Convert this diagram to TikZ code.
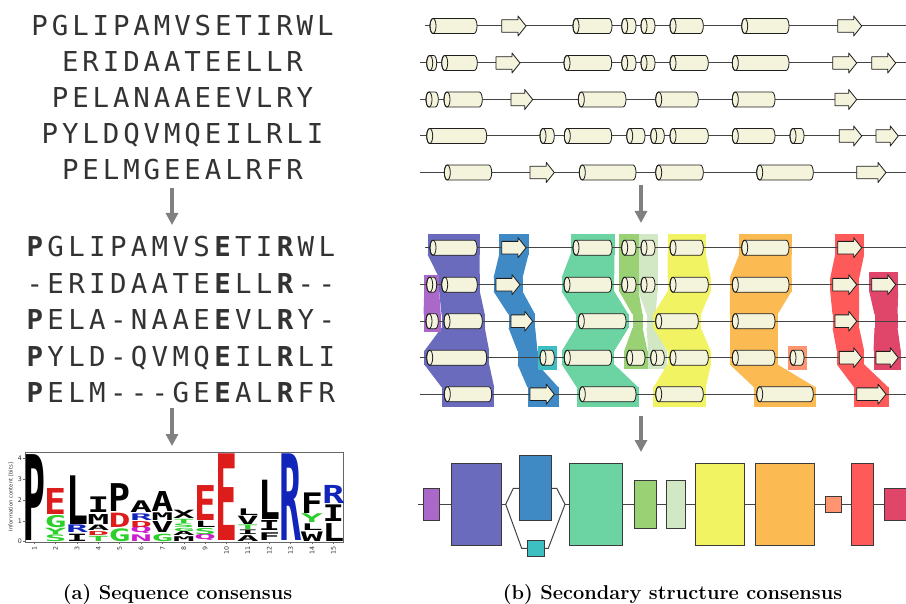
\documentclass[tikz,border=0pt]{standalone}
\usepackage{fontspec}
\usepackage{graphicx}
\usetikzlibrary{arrows.meta}
\newfontfamily\seqfont{DejaVu Sans Mono}
\newfontfamily\logofont{DejaVu Sans Mono}
\newfontfamily\axisfont{DejaVu Sans}

\definecolor{seqgray}{HTML}{333333}
\definecolor{arrgray}{HTML}{808080}
\definecolor{ssfill}{HTML}{F4F3DC}
\definecolor{ssedge}{HTML}{1E1E1E}
\definecolor{trackline}{HTML}{444444}
\definecolor{boxline}{HTML}{3A3A3A}
\definecolor{framegray}{HTML}{666666}
\definecolor{cA}{HTML}{AA69C9}
\definecolor{cB}{HTML}{6A6BBD}
\definecolor{cC}{HTML}{3F8AC5}
\definecolor{cD}{HTML}{3DBFC2}
\definecolor{cE}{HTML}{6CD3A2}
\definecolor{cF}{HTML}{99D174}
\definecolor{cG}{HTML}{D2E7C4}
\definecolor{cH}{HTML}{F2F363}
\definecolor{cI}{HTML}{FCBA52}
\definecolor{cJ}{HTML}{FF9470}
\definecolor{cK}{HTML}{FF5A5A}
\definecolor{cL}{HTML}{E0456A}
\definecolor{lgred}{HTML}{DD1C1C}
\definecolor{lggreen}{HTML}{2DCF2D}
\definecolor{lgblue}{HTML}{1225BB}
\definecolor{lgmag}{HTML}{CC1FCC}

% row heights of the aligned tracks (middle panel)
\def\YA{247.7}
\def\YB{284.7}
\def\YC{321.2}
\def\YD{357.7}
\def\YE{394.2}

% one character per cell of a sequence row: first x, baseline, advance, letters
\newcommand\seqrow[4]{%
  \foreach \c [count=\n] in {#4} {\node[seqch] at ({#1+(\n-1)*#3},#2) {\c};}}

% logo letter: column, bottom (bits), top (bits), letter, colour
\newcommand\logoletter[5]{%
  \pgfmathsetmacro\lgh{(#3-#2)*20.8}%
  \node[inner sep=0,outer sep=0,anchor=south,text=#5]
    at ({34.3+(#1-1)*21.36},{541.7-20.8*#2})
    {\resizebox{22pt}{\lgh pt}{\logofont\bfseries #4}};}

% helix cylinder from x #1 to x #2 on track y #3
\newcommand\helix[3]{%
  \filldraw[ssel] (#1+3,#3-7.5) -- (#2-3,#3-7.5)
    arc[start angle=-90,end angle=90,x radius=3,y radius=7.5]
    -- (#1+3,#3+7.5)
    arc[start angle=90,end angle=270,x radius=3,y radius=7.5] -- cycle;
  \draw[ssel,fill=none] (#1+3,#3) ellipse[x radius=3,y radius=7.5];}

% strand arrow from x #1 to tip x #2 on track y #3
\newcommand\strand[3]{%
  \filldraw[ssel] (#1,#3-6.3) -- (#2-8,#3-6.3) -- (#2-8,#3-10) -- (#2,#3)
    -- (#2-8,#3+10) -- (#2-8,#3+6.3) -- (#1,#3+6.3) -- cycle;}

% the five secondary-structure tracks
\newcommand\tracks{%
  \draw[trk] (425,26) -- (906,26);
  \draw[trk] (420,63) -- (906,63);
  \draw[trk] (420,99.5) -- (906,99.5);
  \draw[trk] (420,136) -- (906,136);
  \draw[trk] (420,172.5) -- (906,172.5);
  \foreach \a/\b in {430/477,573/612,621.7/636,641/655,670/703.3,741.7/789}{\helix{\a}{\b}{26}}
  \foreach \a/\b in {501.7/526,837.7/861.7}{\strand{\a}{\b}{26}}
  \foreach \a/\b in {426.7/436.7,441.7/477.3,564/611.7,621.7/636,641/655,670/708.3,732.3/789}{\helix{\a}{\b}{63}}
  \foreach \a/\b in {496/520,832.7/856.7,871.7/895.7}{\strand{\a}{\b}{63}}
  \foreach \a/\b in {426/438.3,444/482.3,578.3/626,655.7/698.3,732.3/775}{\helix{\a}{\b}{99.5}}
  \foreach \a/\b in {511/532.7,835/856.7}{\strand{\a}{\b}{99.5}}
  \foreach \a/\b in {426.7/486.7,540/554.3,564.3/611.7,626.7/645,650.7/664.3,670/708.3,732.3/775,790/804}{\helix{\a}{\b}{136}}
  \foreach \a/\b in {839.3/861.7,876/898.3}{\strand{\a}{\b}{136}}
  \foreach \a/\b in {444.3/491.7,579.3/636,655.7/703.3,756.7/813.3}{\helix{\a}{\b}{172.5}}
  \foreach \a/\b in {530/554.3,856.7/886}{\strand{\a}{\b}{172.5}}}

% coloured band through aligned elements: entries top/bottom/left/right
\newcommand\band[2]{%
  \foreach \ta/\tb/\tl/\tr [count=\k, remember=\tb as \pb (initially 0),
      remember=\tl as \pl (initially 0), remember=\tr as \pr (initially 0)] in {#2} {
    \fill[#1] (\tl-2.5,\ta) rectangle (\tr+2.5,\tb);
    \ifnum\k>1
      \fill[#1] (\pl-2.5,\pb-0.3) -- (\pr+2.5,\pb-0.3) -- (\tr+2.5,\ta+0.3) -- (\tl-2.5,\ta+0.3) -- cycle;
    \fi}}

\begin{document}
\begin{tikzpicture}[x=1pt,y=-1pt,
  seqch/.style={inner sep=0,outer sep=0,anchor=base,text=seqgray,
    font=\seqfont\fontsize{27.4}{30}\selectfont},
  ssel/.style={draw=ssedge,fill=ssfill,line width=0.8pt,line join=round},
  trk/.style={draw=trackline,line width=1pt},
  garrow/.style={draw=arrgray,line width=3.2pt,-{Triangle[width=12pt,length=12pt]}},
  cbox/.style={draw=boxline,line width=0.8pt,inner sep=0,outer sep=0},
  conn/.style={draw=trackline,line width=1pt},
  ticklab/.style={inner sep=0.5pt,text=seqgray,font=\axisfont\fontsize{6.3}{7}\selectfont},
  caption/.style={inner sep=0,anchor=base,font=\bfseries\fontsize{20}{23}\selectfont}]
\useasboundingbox[fill=white] (0,0) rectangle (906,604);

%% ---------- (a) sequences ----------
\seqrow{39.7}{36}{20.4}{P,G,L,I,P,A,M,V,S,E,T,I,R,W,L}
\seqrow{70.3}{72}{20.4}{E,R,I,D,A,A,T,E,E,L,L,R}
\seqrow{60.1}{108}{20.4}{P,E,L,A,N,A,A,E,E,V,L,R,Y}
\seqrow{49.9}{144}{20.4}{P,Y,L,D,Q,V,M,Q,E,I,L,R,L,I}
\seqrow{70.3}{180}{20.4}{P,E,L,M,G,E,E,A,L,R,F,R}

\coordinate (la1s) at (172,188);
\coordinate (la1e) at (172,225);
\draw[garrow] (la1s) -- (la1e);

\seqrow{34.85}{256.7}{20.85}{{\textbf{P}},G,L,I,P,A,M,V,S,{\textbf{E}},T,I,{\textbf{R}},W,L}
\seqrow{34.85}{293.2}{20.85}{-,E,R,I,D,A,A,T,E,{\textbf{E}},L,L,{\textbf{R}},-,-}
\seqrow{34.85}{329.7}{20.85}{{\textbf{P}},E,L,A,-,N,A,A,E,{\textbf{E}},V,L,{\textbf{R}},Y,-}
\seqrow{34.85}{366.2}{20.85}{{\textbf{P}},Y,L,D,-,Q,V,M,Q,{\textbf{E}},I,L,{\textbf{R}},L,I}
\seqrow{34.85}{402.7}{20.85}{{\textbf{P}},E,L,M,-,-,-,G,E,{\textbf{E}},A,L,{\textbf{R}},F,R}

\coordinate (la2s) at (172,408);
\coordinate (la2e) at (172,446);
\draw[garrow] (la2s) -- (la2e);

%% ---------- sequence logo ----------
\draw[framegray,line width=0.6pt] (25,452) rectangle (343,542);
\foreach \v in {0,...,4} {
  \draw[framegray,line width=0.6pt] (25,541.7-20.8*\v) -- ++(-2,0);
  \node[ticklab,anchor=east] at (22.5,541.7-20.8*\v) {\v};}
\foreach \n in {1,...,15} {
  \draw[framegray,line width=0.6pt] ({34.3+(\n-1)*21.36},542) -- ++(0,2);
  \node[ticklab,rotate=90,anchor=east] at ({34.3+(\n-1)*21.36},545.5) {\n};}
\node[inner sep=0,rotate=90,text=seqgray,font=\axisfont\fontsize{5.3}{6}\selectfont]
  at (11,497) {Information content [bits]};

\logoletter{1}{0.05}{4.18}{P}{black}
\logoletter{2}{0.02}{0.34}{S}{lggreen}
\logoletter{2}{0.36}{0.66}{Y}{lggreen}
\logoletter{2}{0.69}{1.27}{G}{lggreen}
\logoletter{2}{1.30}{2.55}{E}{lgred}
\logoletter{3}{0.02}{0.37}{I}{black}
\logoletter{3}{0.42}{0.79}{R}{lgblue}
\logoletter{3}{0.85}{3.19}{L}{black}
\logoletter{4}{0.02}{0.27}{T}{lggreen}
\logoletter{4}{0.31}{0.50}{D}{lgred}
\logoletter{4}{0.53}{0.79}{A}{black}
\logoletter{4}{0.82}{1.30}{M}{black}
\logoletter{4}{1.38}{2.13}{I}{black}
\logoletter{5}{0.02}{0.63}{G}{lggreen}
\logoletter{5}{0.69}{1.38}{D}{lgred}
\logoletter{5}{1.43}{2.77}{P}{black}
\logoletter{6}{0.02}{0.34}{N}{lgmag}
\logoletter{6}{0.37}{0.66}{Q}{lgmag}
\logoletter{6}{0.69}{0.98}{D}{lgred}
\logoletter{6}{1.01}{1.33}{R}{lgblue}
\logoletter{6}{1.38}{1.94}{A}{black}
\logoletter{7}{0.02}{0.37}{G}{lggreen}
\logoletter{7}{0.42}{0.95}{V}{black}
\logoletter{7}{1.01}{1.38}{M}{black}
\logoletter{7}{1.43}{2.39}{A}{black}
\logoletter{8}{0.02}{0.25}{M}{black}
\logoletter{8}{0.28}{0.47}{A}{black}
\logoletter{8}{0.50}{0.65}{G}{lggreen}
\logoletter{8}{0.68}{0.85}{S}{lggreen}
\logoletter{8}{0.88}{1.08}{T}{lggreen}
\logoletter{8}{1.12}{1.52}{X}{black}
\logoletter{9}{0.05}{0.30}{Q}{lgmag}
\logoletter{9}{0.33}{0.62}{S}{lggreen}
\logoletter{9}{0.70}{1.00}{L}{black}
\logoletter{9}{1.04}{2.72}{E}{lgred}
\logoletter{10}{0.08}{4.25}{E}{lgred}
\logoletter{11}{0.02}{0.30}{A}{black}
\logoletter{11}{0.33}{0.55}{I}{black}
\logoletter{11}{0.58}{0.80}{T}{lggreen}
\logoletter{11}{0.85}{1.25}{V}{black}
\logoletter{11}{1.28}{1.60}{L}{black}
\logoletter{12}{0.08}{0.45}{F}{black}
\logoletter{12}{0.56}{1.04}{I}{black}
\logoletter{12}{1.08}{2.97}{L}{black}
\logoletter{13}{0.08}{4.25}{R}{lgblue}
\logoletter{14}{0.02}{0.48}{W}{black}
\logoletter{14}{0.56}{0.88}{L}{black}
\logoletter{14}{0.91}{1.33}{Y}{lggreen}
\logoletter{14}{1.36}{2.35}{F}{black}
\logoletter{15}{0.02}{0.88}{L}{black}
\logoletter{15}{0.96}{1.76}{I}{black}
\logoletter{15}{1.85}{2.72}{R}{lgblue}

%% ---------- (b) secondary structure ----------
\tracks

\coordinate (ra1s) at (641,185);
\coordinate (ra1e) at (641,223);
\draw[garrow] (ra1s) -- (ra1e);

% bands of aligned elements
\band{cB}{234/\YA+7/430/477, \YB-7/\YB+7/441.7/477.3, \YC-7/\YC+7/444/482.3, \YD-7/\YD+7/426.7/486.7, \YE-7/407/444.3/491.7}
\band{cA}{\YB-10/\YB+7/426.7/436.7, \YC-7/\YC+10.5/426/438.3}
\band{cC}{234/\YA+7/501.7/526, \YB-7/\YB+7/496/520, \YC-7/\YC+7/511/532.7, \YD-7/\YD+7/520/535, \YE-7/407/530/556}
\band{cD}{\YD-12/\YD+12/540/554.3}
\band{cE}{234/\YA+7/573/612, \YB-7/\YB+7/564/611.7, \YC-7/\YC+7/578.3/626, \YD-7/\YD+7/564.3/611.7, \YE-7/407/579.3/636}
\band{cF}{234/\YA+7/621.7/636, \YB-7/\YB+7/621.7/636, \YC-7/\YC+7/635/640, \YD-7/\YD+11.5/626.7/645}
\band{cG}{234/\YA+7/641/655, \YB-7/\YB+7/641/655, \YC-7/\YC+7/649/653, \YD-7/\YD+11.5/650.7/664.3}
\band{cH}{234/\YA+7/670/703.3, \YB-7/\YB+7/670/708.3, \YC-7/\YC+7/655.7/698.3, \YD-7/\YD+7/670/708.3, \YE-7/407/655.7/703.3}
\band{cI}{234/\YA+7/741.7/789, \YB-7/\YB+7/732.3/789, \YC-7/\YC+7/732.3/775, \YD-7/\YD+7/732.3/775, \YE-7/407/756.7/813.3}
\band{cJ}{\YD-12/\YD+12/790/804}
\band{cK}{234/\YA+7/837.7/861.7, \YB-7/\YB+7/832.7/856.7, \YC-7/\YC+7/835/856.7, \YD-7/\YD+7/839.3/861.7, \YE-7/407/856.7/886}
\band{cL}{\YB-13/\YB+7/871.7/895.7, \YC-7/\YC+7/877/895, \YD-7/\YD+12.5/876/898.3}

\begin{scope}[shift={(0,221.7)}]
  \tracks
\end{scope}

\coordinate (ra2s) at (641,416);
\coordinate (ra2e) at (641,452);
\draw[garrow] (ra2s) -- (ra2e);

% consensus blocks
\node[cbox,fill=cA,minimum width=16pt,minimum height=32.4pt] (k1) at (431.3,504.3) {};
\node[cbox,fill=cB,minimum width=50pt,minimum height=81.7pt] (k2) at (476.7,504.3) {};
\node[cbox,fill=cC,minimum width=32.4pt,minimum height=65pt] (k3) at (535.5,488.3) {};
\node[cbox,fill=cD,minimum width=16.7pt,minimum height=16.7pt] (k4) at (535.7,548.3) {};
\node[cbox,fill=cE,minimum width=53.3pt,minimum height=81.7pt] (k5) at (595.7,504.3) {};
\node[cbox,fill=cF,minimum width=22pt,minimum height=48.3pt] (k6) at (645,504.3) {};
\node[cbox,fill=cG,minimum width=18.6pt,minimum height=48.3pt] (k7) at (676,504.3) {};
\node[cbox,fill=cH,minimum width=48.3pt,minimum height=81.7pt] (k8) at (719.8,504.3) {};
\node[cbox,fill=cI,minimum width=58.3pt,minimum height=81.7pt] (k9) at (784.8,504.3) {};
\node[cbox,fill=cJ,minimum width=16.7pt,minimum height=16.3pt] (k10) at (833.3,504.3) {};
\node[cbox,fill=cK,minimum width=21.6pt,minimum height=81.7pt] (k11) at (862.5,504.3) {};
\node[cbox,fill=cL,minimum width=24pt,minimum height=32.4pt] (k12) at (896.3,504.3) {};

\coordinate (cstart) at (418,504.3);
\coordinate (fork1) at (505.7,504.3);
\coordinate (fork2) at (565,504.3);
\draw[conn] (cstart) -- (k1.west);
\draw[conn] (k1.east) -- (k2.west);
\draw[conn] (k2.east) -- (fork1);
\draw[conn] (fork1) -- (513.3,488.3) -- (k3.west);
\draw[conn] (fork1) -- (521.7,548.3) -- (k4.west);
\draw[conn] (k3.east) -- (556.7,488.3) -- (fork2);
\draw[conn] (k4.east) -- (548.3,548.3) -- (fork2);
\draw[conn] (fork2) -- (k5.west);
\draw[conn] (k5.east) -- (k6.west);
\draw[conn] (k6.east) -- (k7.west);
\draw[conn] (k7.east) -- (k8.west);
\draw[conn] (k8.east) -- (k9.west);
\draw[conn] (k9.east) -- (k10.west);
\draw[conn] (k10.east) -- (k11.west);
\draw[conn] (k11.east) -- (k12.west);

%% ---------- captions ----------
\node[caption] (capa) at (177.5,599.3) {(a) Sequence consensus};
\node[caption] (capb) at (672.5,599.3) {(b) Secondary structure consensus};
\end{tikzpicture}
\end{document}
